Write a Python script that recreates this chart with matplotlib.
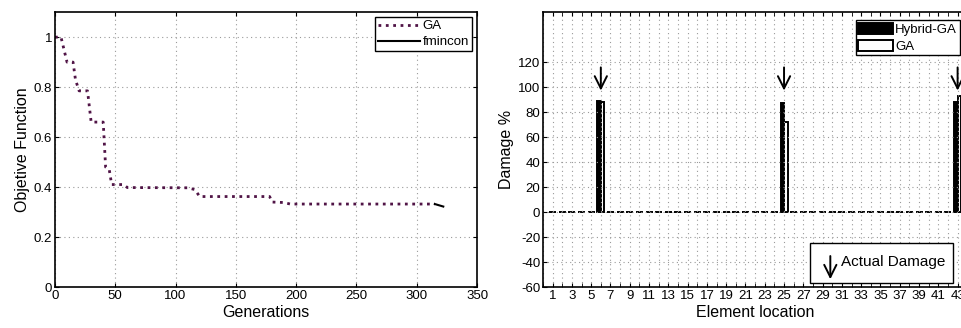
import numpy as np
import matplotlib.pyplot as plt
from matplotlib.patches import Rectangle

plt.rcParams['font.family'] = ['Liberation Sans', 'DejaVu Sans']
plt.rcParams['axes.unicode_minus'] = False

# left panel: convergence history
ga_gen = [0, 5, 10, 15, 17, 20, 27, 30, 40, 42, 45, 47, 57, 60, 110, 116, 120, 178, 180, 190, 195, 315]
ga_obj = [1.0, 1.0, 0.9, 0.9, 0.83, 0.785, 0.785, 0.66, 0.66, 0.48, 0.47, 0.41, 0.41, 0.398, 0.397, 0.39,
          0.362, 0.362, 0.34, 0.338, 0.332, 0.332]
fmin_gen = [315, 322]
fmin_obj = [0.332, 0.322]

# right panel: damage per element
elements = np.arange(1, 44)
damaged = [6, 25, 43]
hybrid_vals = [89, 87, 88]
ga_vals = [88, 72, 93]

hybrid = np.zeros(len(elements))
ga = np.zeros(len(elements))
for e, h, g in zip(damaged, hybrid_vals, ga_vals):
    hybrid[e - 1] = h
    ga[e - 1] = g

grid_kw = dict(linestyle=(0, (1, 3)), color='#9a9a9a', lw=0.8)

fig = plt.figure(figsize=(9.61, 3.28), dpi=100)

ax1 = fig.add_axes([0.0572, 0.125, 0.4392, 0.838])
ax1.plot(ga_gen, ga_obj, ':', color='#501446', lw=2, label='GA')
ax1.plot(fmin_gen, fmin_obj, '-', color='black', lw=1.5, label='fmincon')
ax1.set_xlim(0, 350)
ax1.set_ylim(0, 1.1)
ax1.set_xticks(np.arange(0, 351, 50))
ax1.set_yticks([0, 0.2, 0.4, 0.6, 0.8, 1])
ax1.set_yticklabels(['0', '0.2', '0.4', '0.6', '0.8', '1'])
ax1.grid(True, **grid_kw)
ax1.tick_params(direction='in', top=True, right=True, labelsize=9.5, length=3, pad=2)
ax1.set_xlabel('Generations', fontsize=11.5, labelpad=2)
ax1.set_ylabel('Objetive Function', fontsize=11.5, labelpad=3)
leg = ax1.legend(loc='upper right', fontsize=9.5, fancybox=False, framealpha=1,
                 handlelength=3.2, borderpad=0.2, labelspacing=0.3, handletextpad=0.2,
                 borderaxespad=0.4)
leg.get_frame().set_edgecolor('black')
for s in ax1.spines.values():
    s.set_linewidth(1.2)

ax2 = fig.add_axes([0.565, 0.125, 0.4415, 0.838])
w = 0.36
ax2.bar(elements - w / 2, hybrid, w, color='black', edgecolor='black', lw=1.4, label='Hybrid-GA')
ax2.bar(elements + w / 2, ga, w, color='white', edgecolor='black', lw=1.4, label='GA')
for e in damaged:
    ax2.annotate('', xy=(e, 95), xytext=(e, 118),
                 arrowprops=dict(arrowstyle='->', color='black', lw=1.4, mutation_scale=22))
ax2.set_xlim(0, 44)
ax2.set_ylim(-60, 160)
ax2.set_xticks(np.arange(1, 44, 2))
ax2.set_xticks(np.arange(0, 45, 1), minor=True)
ax2.set_yticks(np.arange(-60, 121, 20))
ax2.grid(True, which='both', **grid_kw)
ax2.tick_params(which='both', direction='in', top=True, right=True, labelsize=9.5, length=3, pad=2)
ax2.set_xlabel('Element location', fontsize=11.5, labelpad=2)
ax2.set_ylabel('Damage %', fontsize=11.5, labelpad=3)
leg2 = ax2.legend(loc='upper right', fontsize=9.5, fancybox=False, framealpha=1,
                  handlelength=2.6, handleheight=0.9, borderpad=0.2, labelspacing=0.3,
                  handletextpad=0.2, bbox_to_anchor=(0.998, 0.995))
leg2.get_frame().set_edgecolor('black')
for s in ax2.spines.values():
    s.set_linewidth(1.2)

# "Actual Damage" key box
ax2.add_patch(Rectangle((27.7, -57), 14.8, 32, facecolor='white', edgecolor='black', lw=1, zorder=4))
ax2.annotate('', xy=(29.8, -56), xytext=(29.8, -33),
             arrowprops=dict(arrowstyle='->', color='black', lw=1.4, mutation_scale=22), zorder=5)
ax2.text(30.9, -40, 'Actual Damage', fontsize=11, va='center', ha='left', zorder=5)

fig.savefig('out.png', dpi=100)
